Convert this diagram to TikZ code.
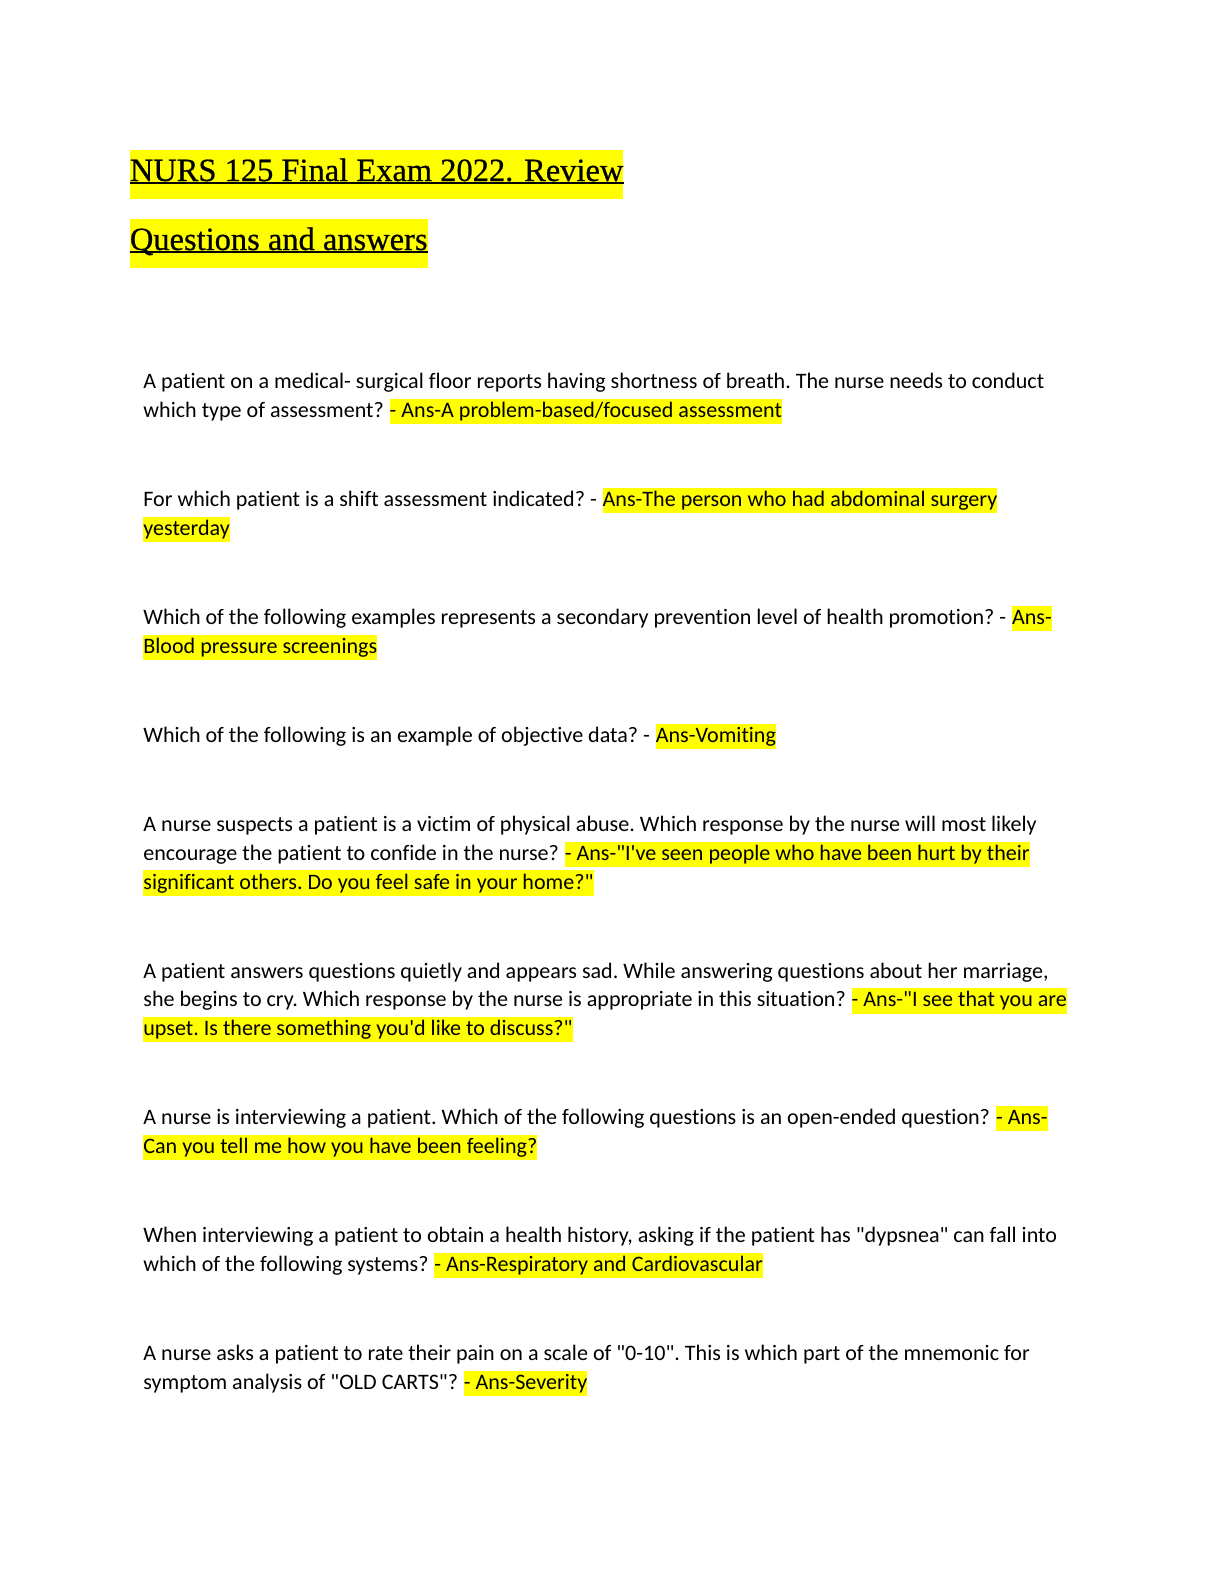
\documentclass[tikz,border=0pt]{standalone}
\usepackage{fontspec}
\setmainfont[Ligatures={TeXOff,NoCommon}]{Carlito}
\newfontfamily\headfont[Ligatures=TeXOff,FakeBold=0.6]{Liberation Serif}
\usepackage{tikz}
\usetikzlibrary{positioning}
\definecolor{hlyellow}{RGB}{255,255,0}
\newcommand{\qfont}{\frenchspacing\fontsize{11.08}{13}\selectfont}
\newcommand{\hfont}{\headfont\fontsize{16.3}{20}\selectfont}
\tikzstyle{qline} = [anchor=base west, inner sep=0pt, font=\qfont]
\tikzstyle{ansline} = [qline, fill=hlyellow, text height=9.3bp, text depth=3.3bp]
\tikzstyle{heading} = [anchor=base west, inner sep=0pt, font=\hfont, fill=hlyellow, text height=15.6bp, text depth=8.9bp]
\tikzstyle{uline} = [line width=0.9bp]

\begin{document}
\begin{tikzpicture}[x=0.5bp, y=-0.5bp]
\useasboundingbox [fill=white] (0,0) rectangle (1224,1584);

% title
\node (title1) [heading] at (129.5,181) {NURS 125 Final Exam 2022. Review};
\node (title2) [heading] at (129.5,250) {Questions and answers};
\draw [uline] ([yshift=-1bp]title1.base west) -- ([yshift=-1bp]title1.base east);
\draw [uline] ([yshift=-1bp]title2.base west) -- ([yshift=-1bp]title2.base east);

% question 1
\node (q1a) [qline] at (143,388.8) {A patient on a medical- surgical floor reports having shortness of breath. The nurse needs to conduct};
\node (q1b) [qline] at (143,417.4) {which type of assessment?};
\node (a1b) [ansline] at ([xshift=2.5bp]q1b.base east) {- Ans-A problem-based/focused assessment};

% question 2
\node (q2a) [qline] at (143,506.7) {For which patient is a shift assessment indicated? -};
\node (a2a) [ansline] at ([xshift=2.5bp]q2a.base east) {Ans-The person who had abdominal surgery};
\node (a2b) [ansline] at (143,535.3) {yesterday};

% question 3
\node (q3a) [qline] at (143,624.6) {Which of the following examples represents a secondary prevention level of health promotion? -};
\node (a3a) [ansline] at ([xshift=2.5bp]q3a.base east) {Ans-};
\node (a3b) [ansline] at (143,653.2) {Blood pressure screenings};

% question 4
\node (q4a) [qline] at (143,742.5) {Which of the following is an example of objective data? -};
\node (a4a) [ansline] at ([xshift=2.5bp]q4a.base east) {Ans-Vomiting};

% question 5
\node (q5a) [qline] at (143,831.8) {A nurse suspects a patient is a victim of physical abuse. Which response by the nurse will most likely};
\node (q5b) [qline] at (143,860.4) {encourage the patient to confide in the nurse?};
\node (a5b) [ansline] at ([xshift=2.5bp]q5b.base east) {- Ans-"I've seen people who have been hurt by their};
\node (a5c) [ansline] at (143,889.0) {significant others. Do you feel safe in your home?"};

% question 6
\node (q6a) [qline] at (143,978.3) {A patient answers questions quietly and appears sad. While answering questions about her marriage,};
\node (q6b) [qline] at (143,1006.9) {she begins to cry. Which response by the nurse is appropriate in this situation?};
\node (a6b) [ansline] at ([xshift=2.5bp]q6b.base east) {- Ans-"I see that you are};
\node (a6c) [ansline] at (143,1035.5) {upset. Is there something you'd like to discuss?"};

% question 7
\node (q7a) [qline] at (143,1124.8) {A nurse is interviewing a patient. Which of the following questions is an open-ended question?};
\node (a7a) [ansline] at ([xshift=2.5bp]q7a.base east) {- Ans-};
\node (a7b) [ansline] at (143,1153.4) {Can you tell me how you have been feeling?};

% question 8
\node (q8a) [qline] at (143,1242.7) {When interviewing a patient to obtain a health history, asking if the patient has "dypsnea" can fall into};
\node (q8b) [qline] at (143,1271.3) {which of the following systems?};
\node (a8b) [ansline] at ([xshift=2.5bp]q8b.base east) {- Ans-Respiratory and Cardiovascular};

% question 9
\node (q9a) [qline] at (143,1360.6) {A nurse asks a patient to rate their pain on a scale of "0-10". This is which part of the mnemonic for};
\node (q9b) [qline] at (143,1389.2) {symptom analysis of "OLD CARTS"?};
\node (a9b) [ansline] at ([xshift=2.5bp]q9b.base east) {- Ans-Severity};
\end{tikzpicture}
\end{document}
